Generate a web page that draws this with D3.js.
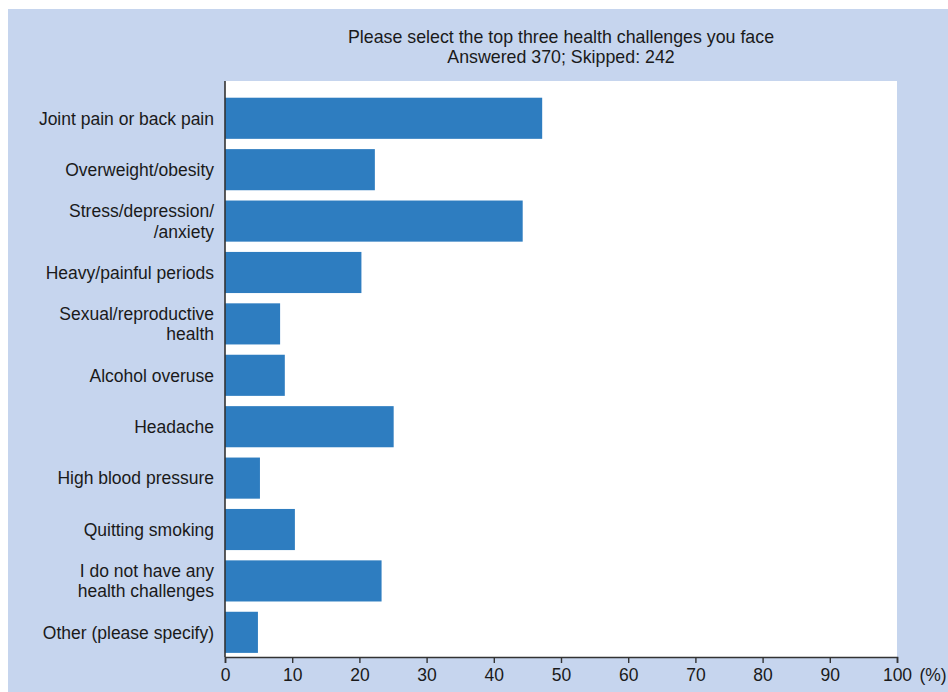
<!DOCTYPE html>
<html>
<head>
<meta charset="utf-8">
<script src="https://cdn.jsdelivr.net/npm/d3@7"></script>
<style>
  html, body { margin: 0; padding: 0; background: #ffffff; }
  svg { display: block; }
  text { font-family: "Liberation Sans", Arial, sans-serif; fill: #1a1a1a; }
</style>
</head>
<body>
<svg id="chart" width="948" height="692"></svg>
<script>
// Survey question and response counts
const titleLines = ["Please select the top three health challenges you face", "Answered 370; Skipped: 242"];

// Answer options (line breaks marked with \n)
const categories = [
  "Joint pain or back pain",
  "Overweight/obesity",
  "Stress/depression/\n/anxiety",
  "Heavy/painful periods",
  "Sexual/reproductive\nhealth",
  "Alcohol overuse",
  "Headache",
  "High blood pressure",
  "Quitting smoking",
  "I do not have any\nhealth challenges",
  "Other (please specify)"
];

// Share of respondents choosing each option (%)
const values = [47.2, 22.3, 44.3, 20.3, 8.2, 8.9, 25.1, 5.2, 10.4, 23.3, 4.9];

// Axis ticks (%)
const xTicks = [0, 10, 20, 30, 40, 50, 60, 70, 80, 90, 100];
const unitLabel = "(%)";

const svg = d3.select("#chart");
const W = 948, H = 692;

// Panel background
svg.append("rect").attr("x", 8).attr("y", 9).attr("width", W - 8).attr("height", H - 9)
  .attr("fill", "#c6d5ee");

const plot = { left: 225, right: 897, top: 81, bottom: 657 };

svg.append("rect")
  .attr("x", plot.left).attr("y", plot.top)
  .attr("width", plot.right - plot.left).attr("height", plot.bottom - plot.top)
  .attr("fill", "#ffffff");

const x = d3.scaleLinear().domain([0, 100]).range([plot.left, plot.right]);
const y = d3.scaleBand().domain(categories).range([93.6, plot.bottom])
  .paddingInner(0.2).paddingOuter(0.08);

// Title
const title = svg.append("text").attr("text-anchor", "middle").style("font-size", "17.8px");
titleLines.forEach((t, i) => {
  title.append("tspan").attr("x", (plot.left + plot.right) / 2).attr("y", 43 + i * 20).text(t);
});

// Bars
svg.append("g").selectAll("rect").data(categories).join("rect")
  .attr("x", x(0))
  .attr("y", d => y(d))
  .attr("width", (d, i) => x(values[i]) - x(0))
  .attr("height", y.bandwidth())
  .attr("fill", "#2e7dc0");

// Category labels
const labels = svg.append("g").selectAll("text").data(categories).join("text")
  .attr("text-anchor", "end")
  .style("font-size", "17.5px");
labels.each(function (d) {
  const lines = d.split("\n");
  const cy = y(d) + y.bandwidth() / 2;
  const lh = 20.5;
  lines.forEach((ln, i) => {
    d3.select(this).append("tspan")
      .attr("x", 214)
      .attr("y", cy + (i - (lines.length - 1) / 2) * lh)
      .attr("dy", "0.36em")
      .text(ln);
  });
});

// X axis
const xAxis = svg.append("g").attr("transform", `translate(0,${plot.bottom})`)
  .call(d3.axisBottom(x).tickValues(xTicks).tickSize(6).tickPadding(6).tickFormat(d3.format("d")));
xAxis.select(".domain").attr("stroke", "#333").attr("stroke-width", 1.6);
xAxis.selectAll(".tick line").attr("stroke", "#333").attr("stroke-width", 1.4);
xAxis.selectAll(".tick text").style("font-size", "17.5px").style("font-family", "Liberation Sans, Arial, sans-serif").attr("fill", "#1a1a1a");

// Y axis line
svg.append("line")
  .attr("x1", plot.left).attr("x2", plot.left)
  .attr("y1", plot.top).attr("y2", plot.bottom)
  .attr("stroke", "#333").attr("stroke-width", 1.6);

// Unit label
svg.append("text")
  .attr("x", 933).attr("y", plot.bottom + 12).attr("dy", "0.71em")
  .attr("text-anchor", "middle")
  .style("font-size", "17.5px")
  .text(unitLabel);
</script>
</body>
</html>
